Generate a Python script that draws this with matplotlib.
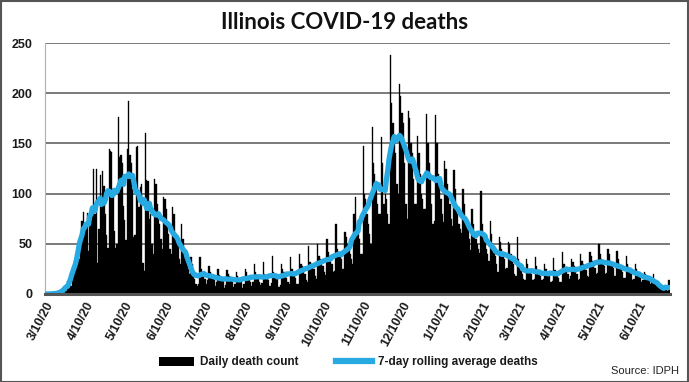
import matplotlib
matplotlib.use("Agg")
import matplotlib.pyplot as plt
from matplotlib.patches import Rectangle, Patch
from matplotlib.lines import Line2D
import numpy as np
import pandas as pd

# Daily Illinois COVID-19 deaths, 3/10/20 - 7/4/21
mar20 = [0,0,0,0,0,0,0, 1,0,1,1,1,2,3, 3,7,3,13,13,8,8,26]
apr20 = [30,35,40,38,35,50, 73,82,66,68,81,43,74, 74,80,125,80,125,31,65,
         119,98,123,108,80,59,46, 144,142,141]
may20 = [105,63,46,50, 176,136,138,130,88,74,54, 144,192,138,130,105,57,59,
         146,147,87,107,110,31,23, 160,114,113,75,80,50]
jun20 = [40, 115,110,90,75,70,55,45, 97,95,85,70,60,45,40, 87,80,60,55,50,35,30,
         70,55,45,40,35,25,20, 37]
jul20 = [30,22,15,10,8,10, 37,25,22,20,15,10,14, 28,22,20,18,14,8,12,
         25,19,17,16,13,6,9, 24,20,18,14]
aug20 = [12,7,10, 22,18,16,14,12,6,10, 25,22,18,15,12,8,12, 30,22,19,16,12,9,11,
         32,20,18,16,14,8,11]
sep20 = [38,22,20,15,15,7,9, 30,25,22,18,16,12,10, 37,25,22,20,16,10,10,
         40,30,28,24,20,14,12, 48,32]
oct20 = [30,28,25,18,15, 50,38,35,32,28,22,19, 55,42,38,35,30,22,23,
         70,45,42,38,35,25,25, 62,57,50,45,40]
nov20 = [35,30, 80,97,65,60,55,40,40, 147,100,95,80,70,60,50,
         166,130,120,105,90,80,80, 156,130,90,100,95,80,70]
dec20 = [238,190,170,150,140,110,100, 209,197,180,170,130,90,75,
         182,175,150,140,115,90,90, 157,140,120,100,95,85,85, 179,150,130]
jan21 = [120,90,70,73, 178,150,120,110,95,80,72, 132,125,110,100,90,75,68,
         124,105,90,80,70,65,61, 105,90,75,70,65,55]
feb21 = [44, 85,70,60,55,50,45,41, 103,70,60,55,45,40,33, 73,60,50,42,38,30,22,
         57,52,45,40,35,25]
mar21 = [26, 52,50,40,35,30,20,18, 57,35,30,25,20,15,14, 35,30,25,22,20,14,15,
         37,28,22,20,18,14,15, 30,25]
apr21 = [22,20,18,12,13, 36,24,22,18,16,12,12, 42,30,26,24,20,15,18,
         35,32,28,24,20,14,15, 40,33,30,27]
may21 = [24,18,17, 42,38,33,30,26,20,21, 50,40,35,30,28,20,21,
         45,40,33,30,26,18,18, 43,35,30,27,22,16,16]
jun21 = [38,30,27,24,20,14,15, 30,25,22,20,17,12,14, 22,20,18,16,14,10,12,
         20,14,12,10,8,6,7, 8,6]
jul21 = [5,4,3,14]

daily = (mar20 + apr20 + may20 + jun20 + jul20 + aug20 + sep20 + oct20 + nov20
         + dec20 + jan21 + feb21 + mar21 + apr21 + may21 + jun21 + jul21)
dates = pd.date_range("2020-03-10", periods=len(daily), freq="D")
rolling = pd.Series(daily, index=dates).rolling(7, center=True, min_periods=1).mean()

tick_dates = pd.date_range("2020-03-01", "2021-06-01", freq="MS") + pd.Timedelta(days=9)
tick_labels = [f"{d.month}/{d.day}/{d.strftime('%y')}" for d in tick_dates]
y_ticks = [0, 50, 100, 150, 200, 250]

title = "Illinois COVID-19 deaths"
bar_label = "Daily death count"
line_label = "7-day rolling average deaths"
source = "Source: IDPH"

BLUE = "#27a9e1"
TXT = "#1a1a1a"
FONT = ["Liberation Sans", "DejaVu Sans"]

fig = plt.figure(figsize=(6.89, 3.82), dpi=100)
ax = fig.add_axes([0.0653, 0.2304, 0.9067, 0.657])

ax.bar(dates, daily, width=1.0, color="#000000", edgecolor="#000000",
       linewidth=0.25, zorder=2)
ax.plot(rolling.index, rolling.values, color=BLUE, lw=3.8, zorder=3,
        solid_capstyle="round", solid_joinstyle="round")

ax.set_ylim(0, 250)
ax.set_yticks(y_ticks)
ax.set_xlim(dates[0] - pd.Timedelta(hours=14), dates[-1] + pd.Timedelta(hours=14))
ax.set_xticks(tick_dates)
ax.set_xticklabels(tick_labels, rotation=62, ha="right", rotation_mode="anchor",
                   fontsize=9, fontweight="bold", family=FONT, color=TXT)
for lab in ax.get_yticklabels():
    lab.set_fontsize(9)
    lab.set_fontweight("bold")
    lab.set_family(FONT)
    lab.set_color(TXT)
ax.tick_params(axis="both", length=0)
ax.tick_params(axis="y", pad=9)
ax.tick_params(axis="x", pad=4)

ax.yaxis.grid(True, color="#7a7a7a", lw=1.4, zorder=0)
ax.set_axisbelow(True)
for s in ["top", "right"]:
    ax.spines[s].set_visible(False)
ax.spines["left"].set_color("#b0b0b0")
ax.spines["left"].set_linewidth(0.8)
ax.spines["bottom"].set_color("#555555")
ax.spines["bottom"].set_linewidth(2.2)
ax.spines["bottom"].set_zorder(4)

fig.text(0.5, 0.942, title, ha="center", va="center", fontsize=16,
         fontweight="bold", family=["Lato", "DejaVu Sans"], color="#111111")

handles = [Patch(facecolor="#000000", edgecolor="none"),
           Line2D([0], [0], color=BLUE, lw=4.5)]
leg = fig.legend(handles, [bar_label, line_label], loc="center",
                 bbox_to_anchor=(0.505, 0.052), ncol=2, frameon=False,
                 handlelength=3.0, handleheight=0.8, columnspacing=3.2,
                 handletextpad=0.5,
                 prop={"family": FONT, "weight": "bold", "size": 8.5})
for t in leg.get_texts():
    t.set_color(TXT)

fig.text(0.985, 0.016, source, ha="right", va="bottom", fontsize=8,
         family=FONT, color="#222222")

fig.patches.append(Rectangle((0.001, 0.001), 0.997, 0.996, transform=fig.transFigure,
                             fill=False, edgecolor="#555555", lw=1.5))

fig.savefig("out.png", dpi=100)
